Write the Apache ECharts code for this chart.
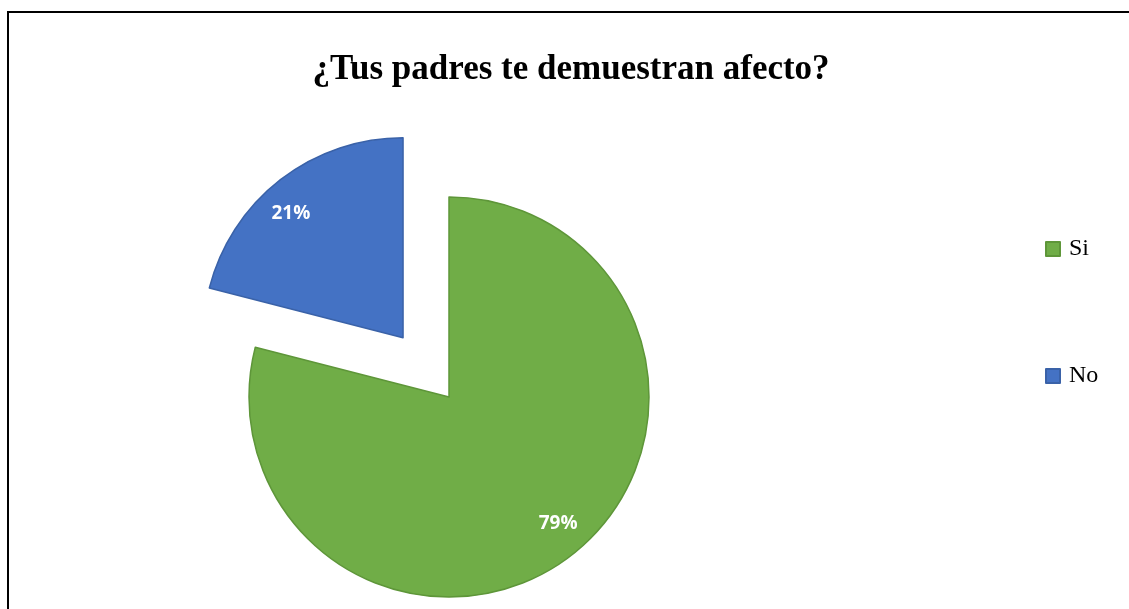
<!DOCTYPE html>
<html>
<head>
<meta charset="utf-8">
<title>¿Tus padres te demuestran afecto?</title>
<script src="https://cdn.jsdelivr.net/npm/echarts@6/dist/echarts.min.js"></script>
<style>
  html, body { margin: 0; padding: 0; background: #fff; }
  #chart { width: 1129px; height: 609px; }
</style>
</head>
<body>
<div id="chart"></div>
<script>
// datos
const categories = ['Si', 'No']
const values     = [79, 21]
const colors     = ['#70AD47', '#4472C4']
const borders    = ['#5E9639', '#3A62A8']
const exploded   = ['No']

const CENTER = [449, 397]
const RADIUS = 200

const pieData = categories.map((name, i) => ({
  name,
  value: values[i],
  selected: exploded.includes(name),
  itemStyle: { color: colors[i], borderColor: borders[i], borderWidth: 1.5 },
}))

const chart = echarts.init(document.getElementById('chart'))

chart.setOption({
  animation: false,
  title: {
    text: '¿Tus padres te demuestran afecto?',
    left: 566,
    textAlign: 'center',
    top: 47,
    textStyle: {
      fontFamily: 'Liberation Serif',
      fontWeight: 'bold',
      fontSize: 35,
      color: '#000',
    },
  },
  legend: {
    orient: 'vertical',
    left: 1045,
    top: 237,
    padding: 0,
    itemGap: 103,
    itemWidth: 14,
    itemHeight: 14,
    icon: 'rect',
    data: categories,
    textStyle: { fontFamily: 'Liberation Serif', fontSize: 24, color: '#000', padding: [0, 0, 0, 4] },
  },
  graphic: [
    {
      type: 'rect',
      silent: true,
      shape: { x: 8, y: 12, width: 1300, height: 800 },
      style: { fill: 'none', stroke: '#000', lineWidth: 2 },
    },
  ],
  series: [
    {
      // sectores
      type: 'pie',
      center: CENTER,
      radius: RADIUS,
      startAngle: 90,
      clockwise: true,
      selectedMode: 'multiple',
      selectedOffset: 75,
      silent: true,
      label: { show: false },
      labelLine: { show: false },
      data: pieData,
    },
    {
      // capa transparente solo para las etiquetas de porcentaje
      type: 'pie',
      center: CENTER,
      radius: [128, RADIUS],
      startAngle: 93,
      clockwise: true,
      selectedMode: 'multiple',
      selectedOffset: 75,
      silent: true,
      legendHoverLink: false,
      itemStyle: { color: 'transparent' },
      label: {
        show: true,
        position: 'inside',
        formatter: p => p.value + '%',
        fontFamily: 'Open Sans',
        fontWeight: 'bold',
        fontSize: 19,
        color: '#fff',
      },
      labelLine: { show: false },
      data: categories.map((name, i) => ({
        name,
        value: values[i],
        selected: exploded.includes(name),
      })),
    },
  ],
})
</script>
</body>
</html>
